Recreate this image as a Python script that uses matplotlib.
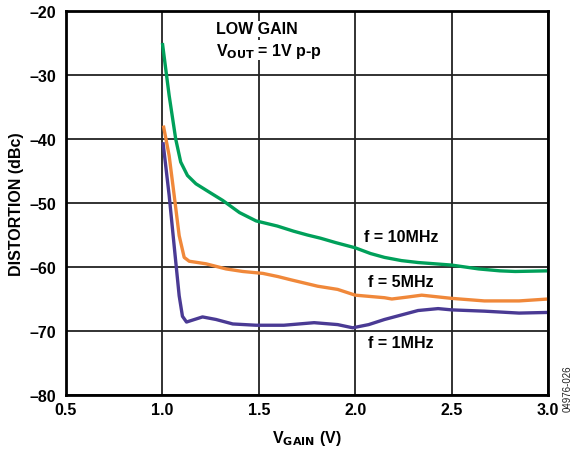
import matplotlib
matplotlib.use("Agg")
import matplotlib.pyplot as plt
from matplotlib.ticker import FixedLocator

plt.rcParams['font.family'] = ['Liberation Sans', 'DejaVu Sans']

# Data
x_10mhz = [1.0, 1.035, 1.069, 1.095, 1.13, 1.174, 1.243, 1.313, 1.4, 1.486, 1.596, 1.68, 1.752, 1.82, 1.9, 2.0, 2.08, 2.152, 2.24, 2.326, 2.5, 2.64, 2.75, 2.83, 3.0]
y_10mhz = [-25.0, -33.2, -40.0, -43.6, -45.7, -47.0, -48.3, -49.6, -51.5, -52.8, -53.6, -54.4, -55.0, -55.5, -56.2, -57.0, -57.9, -58.5, -59.0, -59.3, -59.7, -60.3, -60.6, -60.7, -60.6]

x_5mhz = [1.005, 1.035, 1.061, 1.087, 1.113, 1.139, 1.226, 1.33, 1.417, 1.521, 1.6, 1.666, 1.805, 1.909, 2.0, 2.152, 2.19, 2.27, 2.345, 2.5, 2.67, 2.85, 3.0]
y_5mhz = [-37.9, -42.6, -48.8, -55.1, -58.5, -59.1, -59.5, -60.3, -60.7, -61.0, -61.5, -62.0, -63.0, -63.5, -64.4, -64.8, -65.0, -64.7, -64.4, -64.9, -65.3, -65.3, -65.0]

x_1mhz = [1.003, 1.035, 1.061, 1.087, 1.104, 1.125, 1.156, 1.208, 1.278, 1.365, 1.486, 1.63, 1.787, 1.909, 1.987, 2.07, 2.152, 2.326, 2.43, 2.5, 2.67, 2.85, 3.0]
y_1mhz = [-40.5, -48.8, -56.7, -64.5, -67.7, -68.6, -68.3, -67.8, -68.2, -68.9, -69.1, -69.1, -68.7, -69.0, -69.5, -69.0, -68.2, -66.8, -66.5, -66.7, -66.9, -67.2, -67.1]

x_ticks = [0.5, 1.0, 1.5, 2.0, 2.5, 3.0]
x_ticklabels = ["0.5", "1.0", "1.5", "2.0", "2.5", "3.0"]
y_ticks = [-80, -70, -60, -50, -40, -30, -20]
y_ticklabels = ["\u201380", "\u201370", "\u201360", "\u201350", "\u201340", "\u201330", "\u201320"]

FS = 11.5

fig = plt.figure(figsize=(5.76, 4.52), dpi=100)
ax = fig.add_axes([66/576, 1-396/452, (548-66)/576, (396-12)/452])

ax.set_xlim(0.5, 3.0)
ax.set_ylim(-80, -20)
ax.xaxis.set_major_locator(FixedLocator(x_ticks))
ax.yaxis.set_major_locator(FixedLocator(y_ticks))
ax.set_xticklabels(x_ticklabels, fontsize=FS, fontweight='bold')
ax.set_yticklabels(y_ticklabels, fontsize=FS, fontweight='bold')
ax.tick_params(axis='y', length=0, pad=7)
ax.tick_params(axis='x', length=0, pad=5)
ax.grid(True, color='#222222', linewidth=1.3)
ax.set_axisbelow(True)
for s in ax.spines.values():
    s.set_linewidth(2.0)
    s.set_color('black')

lw = 2.4
ax.plot(x_10mhz, y_10mhz, color='#00A05A', linewidth=lw, solid_capstyle='butt', solid_joinstyle='round')
ax.plot(x_5mhz, y_5mhz, color='#F0883A', linewidth=lw, solid_capstyle='butt', solid_joinstyle='round')
ax.plot(x_1mhz, y_1mhz, color='#4A3A94', linewidth=lw, solid_capstyle='butt', solid_joinstyle='round')

txt_kw = dict(fontsize=FS, fontweight='bold', ha='center', va='center',
              bbox=dict(facecolor='white', edgecolor='none', pad=1))
ax.text(2.238, -55.3, "f = 10MHz", **txt_kw)
ax.text(2.238, -62.3, "f = 5MHz", **txt_kw)
ax.text(2.238, -71.8, "f = 1MHz", **txt_kw)

ax.text(1.28, -22.8, "LOW GAIN", fontsize=FS, fontweight='bold', ha='left', va='center',
        bbox=dict(facecolor='white', edgecolor='none', pad=0.5))
ax.text(1.28, -26.1, r"V$_{\mathbf{OUT}}$ = 1V p-p", fontsize=FS, fontweight='bold', ha='left', va='center',
        bbox=dict(facecolor='white', edgecolor='none', pad=0.5))

ax.set_xlabel(r"V$_{\mathbf{GAIN}}$ (V)", fontsize=FS, fontweight='bold', labelpad=8)
ax.set_ylabel("DISTORTION (dBc)", fontsize=FS, fontweight='bold', labelpad=4)

fig.text(0.985, 0.14, "04976-026", rotation=90, fontsize=7, ha='center', va='center', color='#222222')

fig.savefig("out.png", dpi=100)
